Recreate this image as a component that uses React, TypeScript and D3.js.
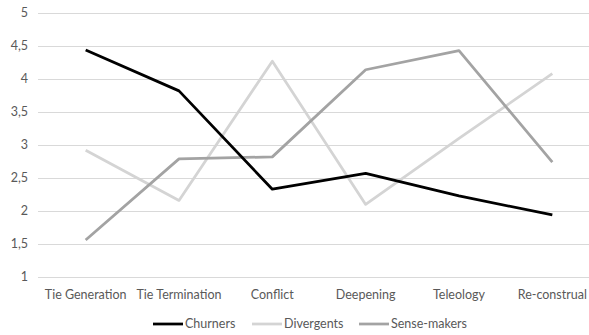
import * as d3 from "d3";
import { useEffect, useRef } from "react";

const categories = ["Tie Generation", "Tie Termination", "Conflict", "Deepening", "Teleology", "Re-construal"];
const churners = [4.44, 3.82, 2.33, 2.57, 2.23, 1.94];
const divergents = [2.92, 2.16, 4.27, 2.1, 3.1, 4.08];
const senseMakers = [1.56, 2.79, 2.82, 4.14, 4.43, 2.74];
const yTicks = [1, 1.5, 2, 2.5, 3, 3.5, 4, 4.5, 5];

const seriesNames = ["Churners", "Divergents", "Sense-makers"];
const seriesColors = ["#000000", "#d4d4d4", "#a3a3a3"];

const App: React.FC = () => {
  const ref = useRef<SVGSVGElement | null>(null);

  useEffect(() => {
    if (!ref.current) return;
    const svg = d3.select(ref.current);
    svg.selectAll("*").remove();

    const width = 589;
    const font = "Lato, 'Open Sans', sans-serif";
    const fontSize = 12.5;
    const textColor = "#595959";

    const x = d3.scalePoint<string>().domain(categories).range([39, 599]).padding(0.5);
    const y = d3.scaleLinear().domain([1, 5]).range([277, 13]);

    // horizontal grid lines
    svg
      .append("g")
      .attr("transform", "translate(38,0)")
      .call(d3.axisLeft(y).tickValues(yTicks).tickSize(-(width - 38)).tickFormat(() => ""))
      .call((g) => g.select(".domain").remove())
      .selectAll("line")
      .attr("stroke", "#d9d9d9")
      .attr("stroke-width", 1);

    // y labels
    svg
      .append("g")
      .selectAll("text")
      .data(yTicks)
      .join("text")
      .attr("x", 28)
      .attr("y", (d) => y(d))
      .attr("dy", "0.35em")
      .attr("text-anchor", "end")
      .attr("font-family", font)
      .attr("font-size", fontSize)
      .attr("fill", textColor)
      .text((d) => String(d).replace(".", ","));

    // x labels
    svg
      .append("g")
      .selectAll("text")
      .data(categories)
      .join("text")
      .attr("x", (d) => x(d) ?? 0)
      .attr("y", 299)
      .attr("text-anchor", "middle")
      .attr("font-family", font)
      .attr("font-size", fontSize)
      .attr("fill", textColor)
      .text((d) => d);

    const allSeries = [churners, divergents, senseMakers];
    const line = d3
      .line<number>()
      .x((_, i) => x(categories[i]) ?? 0)
      .y((d) => y(d));

    // draw in order: divergents, sense-makers, churners on top
    [1, 2, 0].forEach((si) => {
      svg
        .append("path")
        .datum(allSeries[si])
        .attr("fill", "none")
        .attr("stroke", seriesColors[si])
        .attr("stroke-width", 2.75)
        .attr("stroke-linejoin", "round")
        .attr("d", line);
    });

    // legend
    const legendX = [153, 252, 359];
    const legend = svg.append("g");
    seriesNames.forEach((name, i) => {
      legend
        .append("line")
        .attr("x1", legendX[i])
        .attr("x2", legendX[i] + 30)
        .attr("y1", 324)
        .attr("y2", 324)
        .attr("stroke", seriesColors[i])
        .attr("stroke-width", 2.75);
      legend
        .append("text")
        .attr("x", legendX[i] + 32)
        .attr("y", 324)
        .attr("dy", "0.35em")
        .attr("font-family", font)
        .attr("font-size", fontSize)
        .attr("fill", textColor)
        .text(name);
    });
  }, []);

  return (
    <svg
      ref={ref}
      width={589}
      height={335}
      style={{ position: "absolute", left: 0, top: 0, background: "#fff", display: "block" }}
    />
  );
};

export default App;
